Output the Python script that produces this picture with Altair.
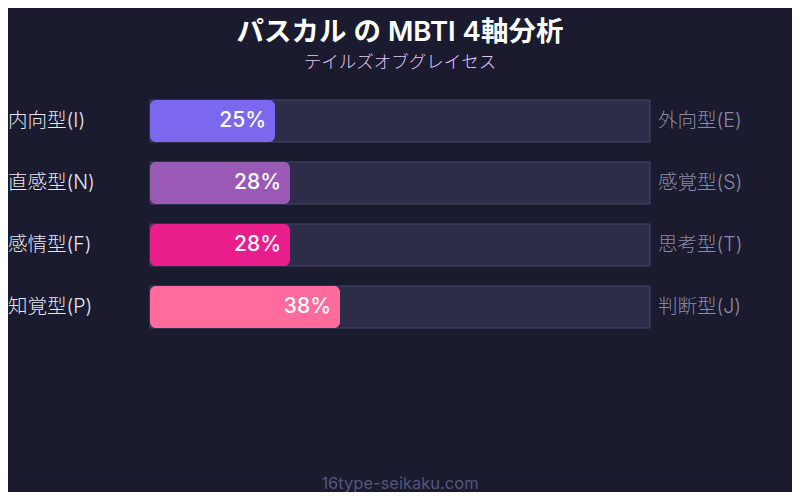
"""MBTI four-axis bar chart for a single character, drawn as layered Altair marks."""

import altair as alt
import pandas as pd

title = "パスカル の MBTI 4軸分析"
subtitle = "テイルズオブグレイセス"
footer = "16type-seikaku.com"

left_labels = ["内向型(I)", "直感型(N)", "感情型(F)", "知覚型(P)"]
right_labels = ["外向型(E)", "感覚型(S)", "思考型(T)", "判断型(J)"]
percents = [25, 28, 28, 38]
colours = ["#7b68ee", "#9b59b6", "#e91e8c", "#ff6b9d"]

BG = "#1a1b2e"
FONT = "Inter, Noto Sans CJK JP, sans-serif"

df = pd.DataFrame({
    "axis": left_labels,
    "left": left_labels,
    "right": right_labels,
    "pct": percents,
    "label": [f"{p}%" for p in percents],
    "colour": colours,
    "zero": 0,
    "full": 100,
})

# page has an 8px margin, so chart coordinates are page coordinates minus 8
xscale = alt.Scale(domain=[0, 100], range=[142, 642])
yscale = alt.Scale(domain=left_labels, range=[92, 320], paddingInner=20 / 62, paddingOuter=0)
x = lambda f: alt.X(f, scale=xscale, axis=None)
y = alt.Y("axis:N", scale=yscale, axis=None, sort=left_labels)

base = alt.Chart(df)

track = base.mark_bar(color="#2d2d4a", stroke="#44446a", strokeWidth=1).encode(
    x=x("zero:Q"), x2="full:Q", y=y,
)
bars = base.mark_bar(cornerRadius=6).encode(
    x=x("zero:Q"), x2="pct:Q", y=y,
    color=alt.Color("colour:N", scale=None, legend=None),
)
values = base.mark_text(
    align="right", baseline="middle", dx=-9, fontSize=21, fontWeight=500,
    color="white", font=FONT,
).encode(x=x("pct:Q"), y=y, text="label:N")

left = base.mark_text(
    align="left", baseline="middle", fontSize=19.5, fontWeight=300,
    color="#e6e6f0", font=FONT,
).encode(x=alt.value(0), y=y, text="left:N")
right = base.mark_text(
    align="left", baseline="middle", fontSize=19.5, fontWeight=300,
    color="#8a8aa6", font=FONT,
).encode(x=alt.value(650), y=y, text="right:N")

heading = alt.Chart(pd.DataFrame({"t": [title]})).mark_text(
    align="center", baseline="middle", fontSize=27.5, fontWeight=600,
    color="white", font=FONT,
).encode(x=alt.value(392), y=alt.value(25), text="t:N")
sub = alt.Chart(pd.DataFrame({"t": [subtitle]})).mark_text(
    align="center", baseline="middle", fontSize=17.5, fontWeight=300,
    color="#e8c4f0", font=FONT,
).encode(x=alt.value(392), y=alt.value(55), text="t:N")
foot = alt.Chart(pd.DataFrame({"t": [footer]})).mark_text(
    align="center", baseline="middle", fontSize=16.5, color="#55557a", font=FONT,
).encode(x=alt.value(392), y=alt.value(476), text="t:N")

chart = (track + bars + values + left + right + heading + sub + foot).properties(
    width=784, height=484, autosize="none", padding=0, background=BG,
).configure_view(stroke=None, fill=BG)

chart.save("out.html", embed_options={"renderer": "svg", "actions": False})
